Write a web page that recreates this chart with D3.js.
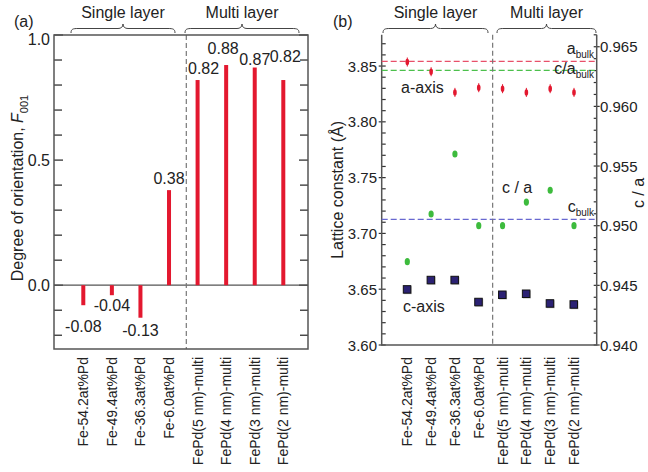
<!DOCTYPE html>
<html>
<head>
<meta charset="utf-8">
<script src="https://cdn.jsdelivr.net/npm/d3@7"></script>
<style>
	body { margin: 0; background: #fff; }
	svg { font-family: "Liberation Sans", Arial, sans-serif; }
	text { fill: #222; }
</style>
</head>
<body>
<svg id="chart" width="648" height="472"></svg>
<script>
// samples (shared by both panels)
const samples = ["Fe-54.2at%Pd", "Fe-49.4at%Pd", "Fe-36.3at%Pd", "Fe-6.0at%Pd",
	"FePd(5 nm)-multi", "FePd(4 nm)-multi", "FePd(3 nm)-multi", "FePd(2 nm)-multi"];
const groups = ["Single layer", "Multi layer"];

// panel (a): degree of orientation F001
const orientation = [-0.08, -0.04, -0.13, 0.38, 0.82, 0.88, 0.87, 0.82];
const orientationLabels = ["-0.08", "-0.04", "-0.13", "0.38", "0.82", "0.88", "0.87", "0.82"];
const orientTicks = [0, 0.5, 1.0];

// panel (b): lattice constants and c/a
const aAxis = [3.8536, 3.8449, 3.8264, 3.8306, 3.8297, 3.8264, 3.8297, 3.8264];
const cAxis = [3.6496, 3.658, 3.658, 3.6383, 3.6448, 3.6457, 3.637, 3.6361];
const cOverA = [0.94698, 0.95098, 0.95601, 0.95, 0.95, 0.95198, 0.95297, 0.95];
const aBulk = 3.8542, cBulk = 3.7126, caBulk = 0.96302;
const latticeTicks = [3.60, 3.65, 3.70, 3.75, 3.80, 3.85];
const ratioTicks = [0.940, 0.945, 0.950, 0.955, 0.960, 0.965];

const svg = d3.select("#chart");
const axisColor = "#555";
const red = "#e3182f", green = "#3dbb3d", navy = "#2b2173";

function brace(g, x1, x2, y, label) {
	const xm = (x1 + x2) / 2;
	const p = `M${x1},${y} C${x1},${y-4} ${x1+2},${y-4.5} ${x1+7},${y-4.5} L${xm-5},${y-4.5}`
		+ ` C${xm-2},${y-4.5} ${xm},${y-6} ${xm},${y-9} C${xm},${y-6} ${xm+2},${y-4.5} ${xm+5},${y-4.5}`
		+ ` L${x2-7},${y-4.5} C${x2-2},${y-4.5} ${x2},${y-4} ${x2},${y}`;
	g.append("path").attr("d", p).attr("fill", "none").attr("stroke", "#444").attr("stroke-width", 1);
	g.append("text").attr("x", xm).attr("y", 18).attr("text-anchor", "middle")
		.style("font-size", "16px").text(label);
}

function xLabels(g, x, y0) {
	g.selectAll(".xl").data(samples).enter().append("text")
		.attr("class", "xl")
		.attr("transform", d => `translate(${x(d) + 5},${y0}) rotate(-90)`)
		.attr("text-anchor", "end")
		.style("font-size", "14px")
		.text(d => d);
}

// ---------- panel (a) ----------
{
	const L = 54, R = 308, T = 35, B = 349;
	const g = svg.append("g");
	const x = d3.scalePoint().domain(samples).range([83.3, 283.3]);
	const y = d3.scaleLinear().domain([-0.255, 1.0]).range([B, T]);
	const xDash = (x(samples[3]) + x(samples[4])) / 2 + 3;

	// ticks every 0.1, inward on both sides
	const minor = d3.range(-2, 11).map(i => i / 10);
	minor.forEach(v => {
		const len = orientTicks.includes(v) ? 9 : 8;
		g.append("line").attr("x1", L).attr("x2", L + len).attr("y1", y(v)).attr("y2", y(v))
			.attr("stroke", "#333").attr("stroke-width", 1.3);
		g.append("line").attr("x1", R).attr("x2", R - len).attr("y1", y(v)).attr("y2", y(v))
			.attr("stroke", "#333").attr("stroke-width", 1.3);
	});
	orientTicks.forEach(v => {
		g.append("text").attr("x", 50).attr("y", y(v) + (v === 1 ? 10 : 6)).attr("text-anchor", "end")
			.style("font-size", "16px").text(d3.format(".1f")(v));
	});

	// zero line
	g.append("line").attr("x1", L).attr("x2", R).attr("y1", y(0)).attr("y2", y(0))
		.attr("stroke", axisColor).attr("stroke-width", 1.3);

	// bars
	g.selectAll(".bar").data(orientation).enter().append("rect")
		.attr("x", (d, i) => x(samples[i]) - 2)
		.attr("width", 4)
		.attr("y", d => y(Math.max(0, d)))
		.attr("height", d => Math.abs(y(d) - y(0)))
		.attr("fill", red);

	// value labels
	const nudge = [27, 16, 18, -6, -6, -11, -3, -18];
	const shift = [0, 0, 0, 0, 6, -3, 0, 2];
	g.selectAll(".val").data(orientation).enter().append("text")
		.attr("x", (d, i) => x(samples[i]) + shift[i])
		.attr("y", (d, i) => y(d) + nudge[i])
		.attr("text-anchor", "middle")
		.style("font-size", "16px")
		.text((d, i) => orientationLabels[i]);

	// dashed separator
	g.append("line").attr("x1", xDash).attr("x2", xDash).attr("y1", T).attr("y2", B)
		.attr("stroke", "#777").attr("stroke-width", 1.2).attr("stroke-dasharray", "5,3");

	// frame
	g.append("rect").attr("x", L).attr("y", T).attr("width", R - L).attr("height", B - T)
		.attr("fill", "none").attr("stroke", axisColor).attr("stroke-width", 1.5);

	xLabels(g, x, 357);

	g.append("text").attr("transform", `translate(23,${(T + B) / 2 - 4}) rotate(-90)`)
		.attr("text-anchor", "middle").style("font-size", "16px")
		.html('Degree of orientation, <tspan font-style="italic">F</tspan><tspan font-size="11px" dy="5">001</tspan>');

	g.append("text").attr("x", 14).attr("y", 27).style("font-size", "16px").text("(a)");

	brace(g, 71, 175, 33, groups[0]);
	brace(g, 185, 299, 33, groups[1]);
}

// ---------- panel (b) ----------
{
	const L = 381.7, R = 596.7, T = 34.8, B = 345;
	const g = svg.append("g");
	const x = d3.scalePoint().domain(samples).range([407.3, 574]);
	const y = d3.scaleLinear().domain([3.6, 3.878]).range([B, T]);
	const y2 = d3.scaleLinear().domain([0.94, 0.966]).range([B, T]);
	const xDash = (x(samples[3]) + x(samples[4])) / 2 + 2;

	// left ticks every 0.01
	d3.range(360, 388).map(i => i / 100).forEach(v => {
		const major = latticeTicks.some(t => Math.abs(t - v) < 1e-6);
		g.append("line").attr("x1", major ? L - 3 : L).attr("x2", L + 4).attr("y1", y(v)).attr("y2", y(v))
			.attr("stroke", "#333").attr("stroke-width", 1.2);
	});
	latticeTicks.forEach(v => {
		g.append("text").attr("x", 377).attr("y", y(v) + 5.5).attr("text-anchor", "end")
			.style("font-size", "15px").text(d3.format(".2f")(v));
	});
	// right ticks every 0.001
	d3.range(940, 967).map(i => i / 1000).forEach(v => {
		const major = ratioTicks.some(t => Math.abs(t - v) < 1e-7);
		g.append("line").attr("x1", R - 3).attr("x2", major ? R + 3 : R).attr("y1", y2(v)).attr("y2", y2(v))
			.attr("stroke", "#333").attr("stroke-width", 1.2);
	});
	ratioTicks.forEach(v => {
		g.append("text").attr("x", 600).attr("y", y2(v) + 5.5)
			.style("font-size", "15px").text(d3.format(".3f")(v));
	});

	// axes (open top)
	g.append("path").attr("d", `M${L},${T} V${B} H${R} V${T}`)
		.attr("fill", "none").attr("stroke", axisColor).attr("stroke-width", 1.5);

	// bulk reference lines
	const refs = [
		{v: y(aBulk), c: "#e8506a"},
		{v: y2(caBulk), c: "#4cc04c"},
		{v: y(cBulk), c: "#6868d0"}
	];
	refs.forEach(r => {
		g.append("line").attr("x1", L).attr("x2", R).attr("y1", r.v).attr("y2", r.v)
			.attr("stroke", r.c).attr("stroke-width", 1.3).attr("stroke-dasharray", "6,3");
	});

	g.append("line").attr("x1", xDash).attr("x2", xDash).attr("y1", T).attr("y2", B)
		.attr("stroke", "#777").attr("stroke-width", 1.2).attr("stroke-dasharray", "5,3");

	// c-axis squares
	g.selectAll(".sqs").data(cAxis).enter().append("rect")
		.attr("x", (d, i) => x(samples[i]) - 3.5).attr("y", d => y(d) - 3.5)
		.attr("width", 8).attr("height", 8).attr("fill", "#bbb");
	g.selectAll(".sq").data(cAxis).enter().append("rect")
		.attr("x", (d, i) => x(samples[i]) - 4).attr("y", d => y(d) - 4)
		.attr("width", 7.5).attr("height", 7.5)
		.attr("fill", navy).attr("stroke", "#111").attr("stroke-width", 1);

	// c/a points
	g.selectAll(".ca").data(cOverA).enter().append("ellipse")
		.attr("cx", (d, i) => x(samples[i])).attr("cy", d => y2(d))
		.attr("rx", 2.6).attr("ry", 3.6).attr("fill", green);

	// a-axis points
	g.selectAll(".ae").data(aAxis).enter().append("line")
		.attr("x1", (d, i) => x(samples[i])).attr("x2", (d, i) => x(samples[i]))
		.attr("y1", d => y(d) - 4.5).attr("y2", d => y(d) + 4.5)
		.attr("stroke", red).attr("stroke-width", 1);
	g.selectAll(".aa").data(aAxis).enter().append("ellipse")
		.attr("cx", (d, i) => x(samples[i])).attr("cy", d => y(d))
		.attr("rx", 1.8).attr("ry", 3.2).attr("fill", red);

	// annotations
	const ann = (tx, ty, s, anchor) => g.append("text").attr("x", tx).attr("y", ty)
		.attr("text-anchor", anchor || "start").style("font-size", "16px").text(s);
	ann(401, 93, "a-axis");
	ann(502, 193, "c / a");
	ann(403, 312, "c-axis");

	const sub = (tx, ty, main) => g.append("text").attr("x", tx).attr("y", ty)
		.attr("text-anchor", "end").style("font-size", "16px")
		.html(`${main}<tspan font-size="10px" dy="4">bulk</tspan>`);
	sub(594, 54, "a");
	sub(594, 74, "c/a");
	sub(594, 212, "c");

	xLabels(g, x, 357);

	g.append("text").attr("transform", `translate(343,${(T + B) / 2}) rotate(-90)`)
		.attr("text-anchor", "middle").style("font-size", "16px").text("Lattice constant (Å)");
	g.append("text").attr("transform", `translate(644,193) rotate(-90)`)
		.attr("text-anchor", "middle").style("font-size", "16px").text("c / a");

	g.append("text").attr("x", 333).attr("y", 27).style("font-size", "16px").text("(b)");

	brace(g, 383, 488, 33, groups[0]);
	brace(g, 497, 596, 33, groups[1]);
}
</script>
</body>
</html>
